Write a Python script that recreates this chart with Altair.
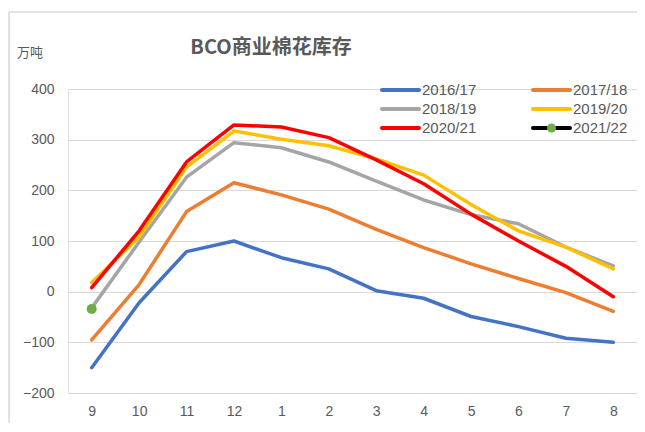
import altair as alt
import pandas as pd

months = ["9", "10", "11", "12", "1", "2", "3", "4", "5", "6", "7", "8"]
series = ["2016/17", "2017/18", "2018/19", "2019/20", "2020/21", "2021/22"]
colors = ["#4472C4", "#ED7D31", "#A5A5A5", "#FFC000", "#FF0000", "#000000"]

s1617 = [-150, -22, 79, 100, 67, 45, 2, -13, -49, -69, -92, -100]
s1718 = [-95, 14, 158, 215, 191, 163, 123, 87, 55, 26, -2, -39]
s1819 = [-32, 98, 226, 294, 284, 256, 218, 181, 152, 134, 88, 51]
s1920 = [18, 108, 246, 317, 301, 288, 262, 230, 172, 120, 88, 45]
s2021 = [8, 120, 256, 329, 325, 304, 260, 213, 153, 100, 50, -10]
s2122 = [-34]

values = [s1617, s1718, s1819, s1920, s2021]

rows = []
for name, vals in zip(series[:5], values):
    for m, v in zip(months, vals):
        rows.append({"month": m, "series": name, "value": v})
df = pd.DataFrame(rows)
df_pt = pd.DataFrame({"month": months[:len(s2122)], "series": series[5], "value": s2122})

# legend layout (computed, not data)
leg = pd.DataFrame({"series": series})
leg["lx"] = [314 + (i % 2) * 151 for i in range(len(series))]
leg["lx2"] = leg["lx"] + 37
leg["tx"] = leg["lx"] + 40
leg["ly"] = [1 + (i // 2) * 19 for i in range(len(series))]
leg["mx"] = leg["lx"] + 18.5

FONT = "Liberation Sans"
CJK = "Noto Sans CJK SC"
GRAY = "#595959"

color_scale = alt.Scale(domain=series, range=colors)
x_enc = alt.X("month:N", sort=months, title=None,
              axis=alt.Axis(labelAngle=0, ticks=False, domain=False, grid=False,
                            labelFont=FONT, labelFontSize=14, labelColor=GRAY, labelPadding=11))
y_enc = alt.Y("value:Q", title=None,
              scale=alt.Scale(domain=[-200, 400], nice=False),
              axis=alt.Axis(values=[-200, -100, 0, 100, 200, 300, 400], ticks=False, domain=False,
                            gridColor="#d9d9d9", gridWidth=1, labelFont=FONT, labelFontSize=14,
                            labelColor=GRAY, labelPadding=14))

lines = alt.Chart(df).mark_line(strokeWidth=3.5, strokeCap="round", strokeJoin="round").encode(
    x=x_enc, y=y_enc,
    color=alt.Color("series:N", scale=color_scale, legend=None),
    order=alt.Order("series:N"),
)

point = alt.Chart(df_pt).mark_circle(size=100, opacity=1, color="#70AD47").encode(
    x=alt.X("month:N", sort=months), y="value:Q"
)

leg_rule = alt.Chart(leg).mark_rule(strokeWidth=4, strokeCap="round").encode(
    x=alt.X("lx:Q", scale=None), x2="lx2:Q", y=alt.Y("ly:Q", scale=None),
    color=alt.Color("series:N", scale=color_scale, legend=None),
)
leg_dot = alt.Chart(leg[leg["series"] == "2021/22"]).mark_circle(size=80, opacity=1, color="#70AD47").encode(
    x=alt.X("mx:Q", scale=None), y=alt.Y("ly:Q", scale=None)
)
leg_text = alt.Chart(leg).mark_text(align="left", baseline="middle", font=FONT, fontSize=15, color=GRAY).encode(
    x=alt.X("tx:Q", scale=None), y=alt.Y("ly:Q", scale=None), text="series:N"
)

title = alt.Chart(pd.DataFrame({"t": ["BCO商业棉花库存"]})).mark_text(
    font=CJK, fontSize=20, fontWeight="bold", color=GRAY, align="center", baseline="middle"
).encode(x=alt.value(203), y=alt.value(-41), text="t:N")

unit = alt.Chart(pd.DataFrame({"t": ["万吨"]})).mark_text(
    font=CJK, fontSize=13, color=GRAY, align="left", baseline="middle"
).encode(x=alt.value(-51), y=alt.value(-36), text="t:N")

border_top = alt.Chart(pd.DataFrame({"a": [0]})).mark_rule(color="#d9d9d9", strokeWidth=1.5).encode(
    x=alt.value(-59), x2=alt.value(600), y=alt.value(-77)
)
border_left = alt.Chart(pd.DataFrame({"a": [0]})).mark_rule(color="#d9d9d9", strokeWidth=1.5).encode(
    x=alt.value(-59), y=alt.value(-77), y2=alt.value(400)
)

chart = alt.layer(
    border_top, border_left, lines, point, leg_rule, leg_dot, leg_text, title, unit
).properties(
    width=569, height=304,
    autosize=alt.AutoSizeParams(type="none"),
    padding={"left": 60, "top": 81, "right": 0, "bottom": 30},
).configure_view(stroke=None).configure(background="white")

chart.save("out.html", embed_options={"renderer": "svg", "actions": False})
